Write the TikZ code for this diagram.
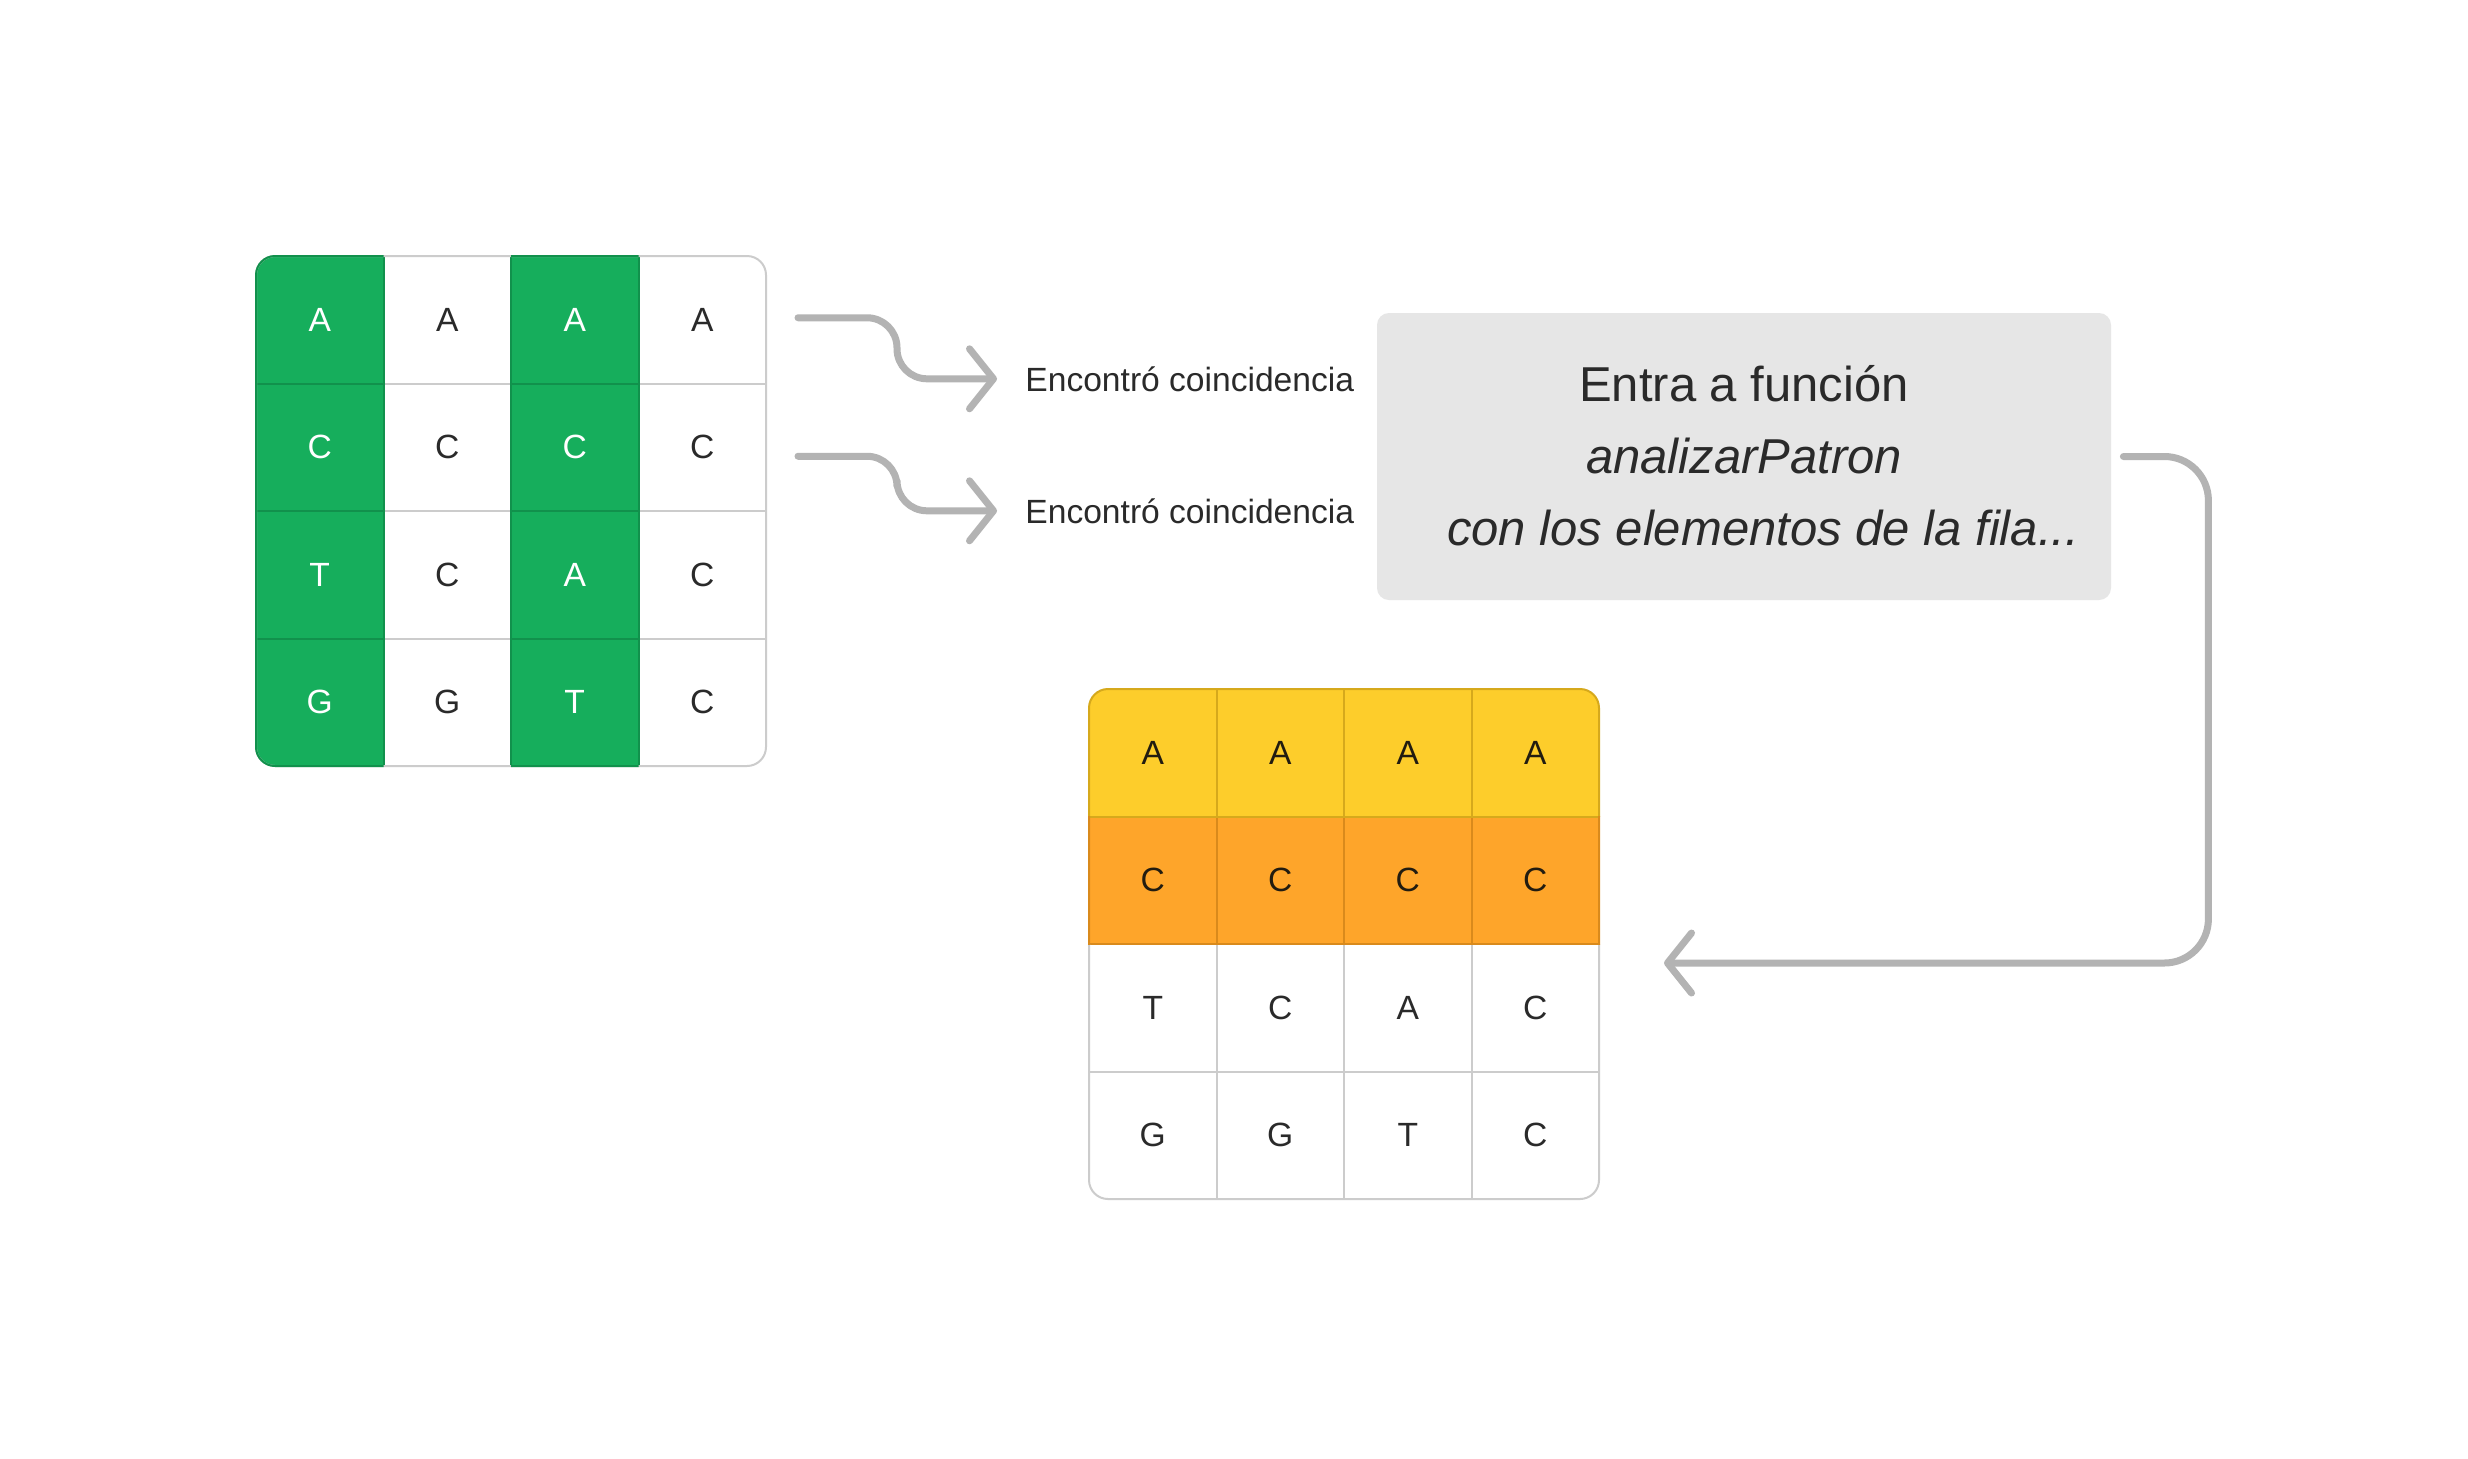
\documentclass[tikz,border=0pt]{standalone}
\usepackage{fontspec}
\setmainfont{Liberation Sans}
\usetikzlibrary{arrows.meta,calc}
\definecolor{gfill}{HTML}{16AE5C}
\definecolor{gline}{HTML}{11914C}
\definecolor{yfill}{HTML}{FDCD2B}
\definecolor{yline}{HTML}{D6A91C}
\definecolor{ofill}{HTML}{FEA52A}
\definecolor{oline}{HTML}{D98A1C}
\definecolor{gridc}{HTML}{CCCCCC}
\definecolor{arrc}{HTML}{B3B3B3}
\definecolor{boxc}{HTML}{E6E6E6}
\definecolor{txt}{HTML}{2A2A2A}
\definecolor{txtb}{HTML}{221C10}
\begin{document}
\begin{tikzpicture}[x=0.5pt,y=-0.5pt,
  cell/.style={minimum width=63.75pt,minimum height=63.75pt,inner sep=0pt,outer sep=0pt,font=\fontsize{16.8}{20}\selectfont,anchor=center},
  gl/.style={line width=1pt},
  conn/.style={draw=arrc,line width=3.5pt,line cap=round,line join=round,rounded corners=15pt,-{Straight Barb[length=12pt,width=30pt,round]}},
  lab/.style={font=\fontsize{16.8}{20}\selectfont,text=txt,inner sep=0pt,anchor=base west},
  btxt/.style={font=\fontsize{24.5}{28}\selectfont,text=txt,inner sep=0pt,anchor=base},
  boxs/.style={fill=boxc,draw=none,rounded corners=6pt,minimum width=367pt,minimum height=143.5pt,inner sep=0pt}]
\useasboundingbox (0,0) rectangle (2468,1458);
\fill[white] (0,0) rectangle (2468,1458);

% ---- left grid ----
\begin{scope}
  \clip[rounded corners=9.5pt] (256,256) rectangle (766,766);
  \fill[white] (256,256) rectangle (766,766);
  \fill[gfill] (256,256) rectangle (383.5,766);
  \fill[gfill] (511,256) rectangle (638.5,766);
  \foreach \y in {383.5,511,638.5}{
    \draw[gridc,gl] (256,\y) -- (766,\y);
    \draw[gline,gl] (256,\y) -- (383.5,\y);
    \draw[gline,gl] (511,\y) -- (638.5,\y);
  }
  \draw[gline,gl] (383.5,256) -- (383.5,766);
  \draw[gline,gl] (511,256) -- (511,766);
  \draw[gline,gl] (638.5,256) -- (638.5,766);
\end{scope}
\draw[gridc,gl,rounded corners=9.5pt] (256,256) rectangle (766,766);
\begin{scope}
  \clip (240,240) rectangle (383.5,790);
  \draw[gline,gl,rounded corners=9.5pt] (256,256) rectangle (766,766);
\end{scope}
\begin{scope}
  \clip (511,240) rectangle (638.5,790);
  \draw[gline,gl,rounded corners=9.5pt] (256,256) rectangle (766,766);
\end{scope}

% ---- bottom grid ----
\begin{scope}
  \clip[rounded corners=9.5pt] (1089,689) rectangle (1599,1199);
  \fill[white] (1089,689) rectangle (1599,1199);
  \fill[yfill] (1089,689) rectangle (1599,816.5);
  \fill[ofill] (1089,816.5) rectangle (1599,944);
  \foreach \x in {1216.5,1344,1471.5}{
    \draw[yline,gl] (\x,689) -- (\x,816.5);
    \draw[oline,gl] (\x,816.5) -- (\x,944);
    \draw[gridc,gl] (\x,944) -- (\x,1199);
  }
  \draw[gridc,gl] (1089,1071.5) -- (1599,1071.5);
  \draw[yline,gl] (1089,816.5) -- (1599,816.5);
  \draw[oline,gl] (1089,944) -- (1599,944);
\end{scope}
\begin{scope}
  \clip (1070,944) rectangle (1620,1220);
  \draw[gridc,gl,rounded corners=9.5pt] (1089,689) rectangle (1599,1199);
\end{scope}
\begin{scope}
  \clip (1070,670) rectangle (1620,816.5);
  \draw[yline,gl,rounded corners=9.5pt] (1089,689) rectangle (1599,1199);
\end{scope}
\begin{scope}
  \clip (1070,816.5) rectangle (1620,944);
  \draw[oline,gl,rounded corners=9.5pt] (1089,689) rectangle (1599,1199);
\end{scope}

% ---- cell letters ----
\foreach \t [count=\k from 0] in {A,A,A,A,C,C,C,C,T,C,A,C,G,G,T,C}{
  \pgfmathtruncatemacro{\r}{int(\k/4)+1}
  \pgfmathtruncatemacro{\c}{mod(\k,4)+1}
  \ifodd\c \def\tc{white}\else \def\tc{txt}\fi
  \ifnum\r<3 \def\bc{txtb}\else \def\bc{txt}\fi
  \node[cell,text=\tc] (L\r\c) at ({256+127.5*(\c-0.5)},{256+127.5*(\r-0.5)}) {\t};
  \node[cell,text=\bc] (B\r\c) at ({1089+127.5*(\c-0.5)},{689+127.5*(\r-0.5)}) {\t};
}

% ---- labels ----
\node[lab] (lab1) at (1025,391) {Encontró coincidencia};
\node[lab] (lab2) at (1025,523) {Encontró coincidencia};

% ---- function box ----
\node[boxs] (box) at (1744,456.5) {};
\node[btxt] (t1) at (1744,401) {Entra a función};
\node[btxt] (t2) at (1744,473) {\itshape analizarPatron};
\node[btxt] (t3) at (1763,545) {\itshape con los elementos de la fila...};

% ---- connectors ----
\draw[conn] ($(L14.east)+(32,-2)$) coordinate (a1s) -- ++(99,0) |- ($(lab1.west)+(-28,0)$);
\draw[conn] ($(L24.east)+(32,9)$) coordinate (a2s) -- ++(99,0) |- ($(lab2.west)+(-28,0)$);
\draw[conn,rounded corners=22pt] ($(box.east)+(12,0)$) coordinate (a3s) -- ++(85,0) |- ($(B24.south east)+(65,19)$);
\end{tikzpicture}
\end{document}
